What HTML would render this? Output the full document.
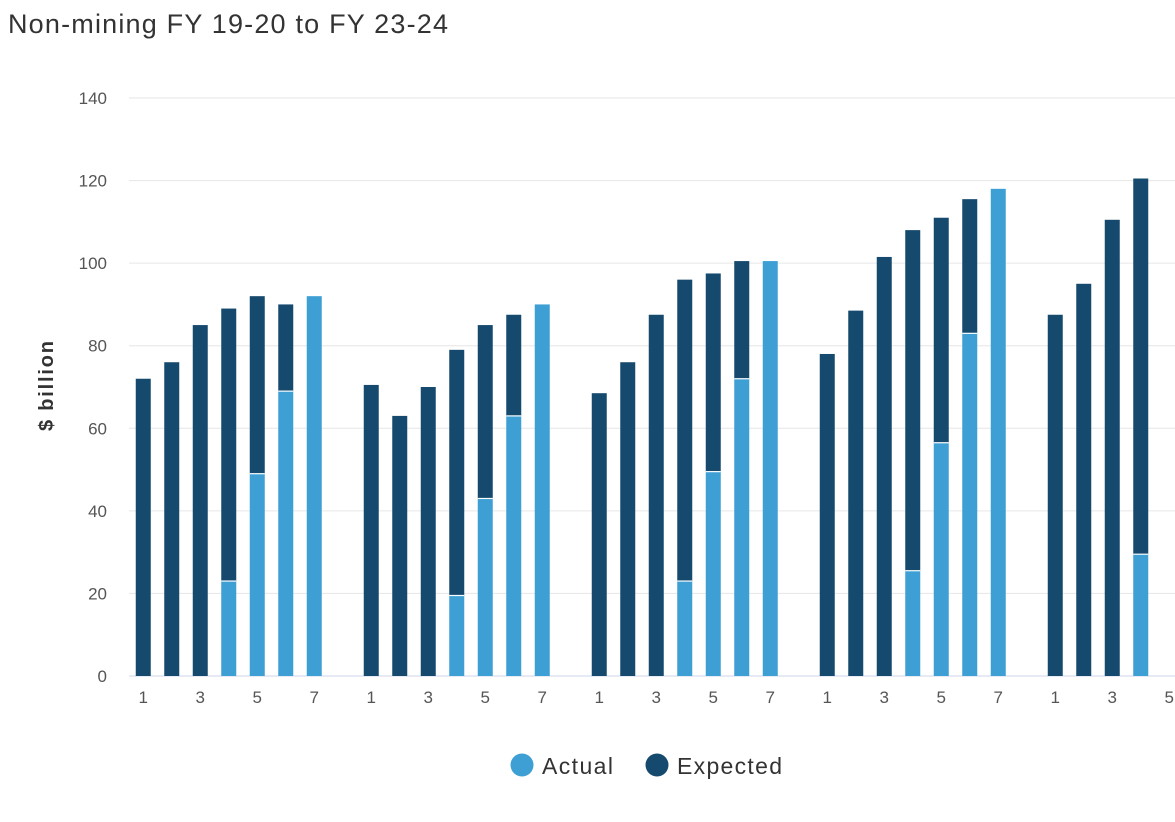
<!DOCTYPE html>
<html><head><meta charset="utf-8"><style>
body{margin:0;background:#fff;width:1175px;height:817px;overflow:hidden;font-family:"Liberation Sans",sans-serif}
</style></head><body>
<svg id="chart" width="1175" height="817" xmlns="http://www.w3.org/2000/svg" font-family="Liberation Sans, sans-serif">
<text x="8" y="33" font-size="27" fill="#333" textLength="440" lengthAdjust="spacing">Non-mining FY 19-20 to FY 23-24</text>
<text transform="translate(53,386) rotate(-90)" text-anchor="middle" font-size="20" font-weight="bold" fill="#333" textLength="90" lengthAdjust="spacing">$ billion</text>
<g id="grid"></g><g id="bars"></g><g id="xlabels"></g>
<g>
<g><circle cx="522" cy="765" r="11.5" fill="#3d9fd4"/><text x="542" y="774" font-size="23" fill="#333" textLength="71" lengthAdjust="spacing">Actual</text></g>
<g><circle cx="657" cy="765" r="11.5" fill="#154a6e"/><text x="677" y="774" font-size="23" fill="#333" textLength="105" lengthAdjust="spacing">Expected</text></g>
</g>
</svg>
<script>
const slotLabels=["1","","3","","5","","7","","1","","3","","5","","7","","1","","3","","5","","7","","1","","3","","5","","7","","1","","3","","5"];
const actual=[0,0,0,23,49,69,92,null,0,0,0,19.5,43,63,90,null,0,0,0,23,49.5,72,100.5,null,0,0,0,25.5,56.5,83,118,null,0,0,0,29.5,null];
const total=[72,76,85,89,92,90,92,null,70.5,63,70,79,85,87.5,90,null,68.5,76,87.5,96,97.5,100.5,100.5,null,78,88.5,101.5,108,111,115.5,118,null,87.5,95,110.5,120.5,null];
const yTicks=[0,20,40,60,80,100,120,140];
const NS="http://www.w3.org/2000/svg";
const x0=129,slot=28.5,yb=676,yt=98,ymax=140;
const y=v=>yb-(v/ymax)*(yb-yt);
const xc=i=>x0+slot*(i+0.5);
function mk(t,a,p){const e=document.createElementNS(NS,t);for(const k in a)e.setAttribute(k,a[k]);p.appendChild(e);return e;}
const grid=document.getElementById('grid');
yTicks.forEach(v=>{
 const l=mk('line',{x1:129,x2:1175,y1:y(v),y2:y(v),stroke:v===0?'#ccd6eb':'#e6e6e6','stroke-width':1},grid);
 
 
 const t=mk('text',{x:107,y:y(v)+6,'text-anchor':'end','font-size':17,fill:'#555'},grid);t.textContent=v;
 
 
});
const bars=document.getElementById('bars'),xl=document.getElementById('xlabels');
const bw=15;
total.forEach((tv,i)=>{
 const cx=xc(i);
 if(tv!==null){
  const a=actual[i]||0;
  if(tv>a){const r=mk('rect',{x:cx-bw/2,y:y(tv),width:bw,height:y(a)-y(tv),fill:'#154a6e'},bars);
   
   }
  if(a>0){const r=mk('rect',{x:cx-bw/2,y:y(a),width:bw,height:y(0)-y(a),fill:'#3d9fd4'},bars);
   
   
   if(tv>a){const s=mk('line',{x1:cx-bw/2,x2:cx+bw/2,y1:y(a),y2:y(a),stroke:'#fff','stroke-width':1.2},bars);
    
    }}
 }
 if(slotLabels[i]){const t=mk('text',{x:cx,y:703,'text-anchor':'middle','font-size':17,fill:'#555'},xl);t.textContent=slotLabels[i];
  
  }
});
</script>
</body></html>
